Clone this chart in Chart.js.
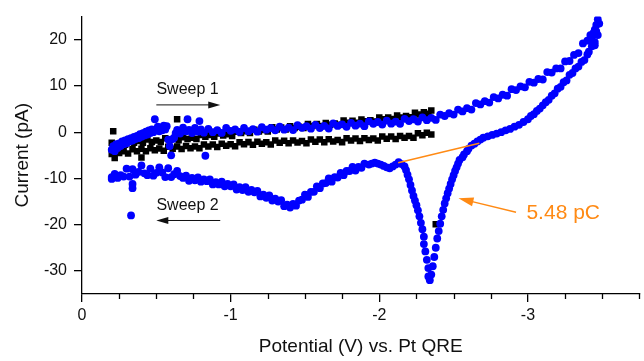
<!DOCTYPE html>
<html>
<head>
<meta charset="utf-8">
<script src="https://cdn.jsdelivr.net/npm/chart.js@4.4.1/dist/chart.umd.min.js"></script>
<style>
  body { margin: 0; background: #fff; }
  #wrap { width: 644px; height: 361px; }
</style>
</head>
<body>
<div id="wrap"><canvas id="cv" width="644" height="361"></canvas></div>
<script>
// potential in V, current in pA

// blue trace, first sweep (toward negative potential)
const blueFwdV = [-0.20,-0.21,-0.22,-0.23,-0.24,-0.25,-0.26,-0.27,-0.28,-0.29,-0.30,-0.31,-0.32,-0.33,-0.34,-0.35,-0.36,-0.37,-0.38,-0.39,-0.40,-0.41,-0.42,-0.43,-0.44,-0.45,-0.46,-0.47,-0.48,-0.49,
  -0.50,-0.51,-0.52,-0.53,-0.54,-0.55,-0.56,-0.57,-0.58,-0.59,-0.60,-0.61,-0.62,-0.63,-0.64,-0.66,-0.68,-0.70,-0.71,-0.72,-0.74,-0.76,-0.78,-0.79,-0.80,-0.82,-0.83,
  -0.85,-0.88,-0.91,-0.94,-0.97,-1.00,-1.03,-1.06,-1.09,-1.12,-1.15,-1.18,-1.21,-1.24,-1.27,-1.30,-1.33,-1.36,-1.39,-1.42,-1.45,-1.48,-1.51,-1.54,-1.57,-1.60,
  -1.63,-1.66,-1.69,-1.72,-1.75,-1.78,-1.81,-1.84,-1.87,-1.90,-1.93,-1.96,-1.99,-2.02,-2.05,-2.08,-2.11,-2.14,-2.17,-2.20,-2.23,-2.26,-2.29,-2.32,-2.35,
  -2.38,-2.41,-2.44,-2.47,-2.50,-2.53,-2.56,-2.59,-2.62,-2.65,-2.68,-2.71,-2.74,-2.77,-2.80,-2.83,-2.86,-2.89,-2.92,-2.95,-2.98,-3.01,-3.04,-3.07,-3.10,
  -3.13,-3.16,-3.19,-3.22,-3.25,-3.28,-3.31,-3.34,-3.37,-3.40,-3.42,-3.44,-3.46,-3.48,-3.47,-3.45,-3.43,-3.44,-3.46,-3.45];
const blueFwdI = [-3.8,-3.0,-4.1,-2.6,-3.4,-2.4,-3.0,-2.0,-2.6,-1.8,-2.4,-1.5,-2.0,-1.3,-1.8,-1.0,-1.5,-0.8,-1.3,-0.4,-1.0,-0.2,-0.7,0.1,-0.5,0.4,-0.2,0.6,0.0,2.8,
  0.5,1.2,0.2,1.0,0.4,1.4,0.6,1.3,-1.6,-3.0,-5.0,-1.5,-1.2,-0.2,0.5,-0.3,1.0,0.2,2.8,0.5,-0.2,0.9,0.1,2.4,0.6,-0.1,-5.1,
  0.7,0.0,0.45,-0.15,0.9,0.3,0.6,0.05,0.9,0.2,0.65,0.1,1.1,0.55,0.9,0.4,1.2,0.55,1.0,0.45,1.5,0.95,1.3,0.75,1.6,0.9,
  1.35,0.8,1.9,1.35,1.7,1.15,2.0,1.4,1.85,1.3,2.35,1.8,2.2,1.65,2.5,1.85,2.3,1.8,2.9,2.4,2.8,2.3,3.2,2.6,3.1,
  2.65,3.8,3.5,4.1,3.8,4.9,4.5,5.2,4.9,6.3,6.0,6.7,6.4,7.6,7.3,8.1,7.9,9.3,9.1,9.9,9.7,10.9,10.7,11.5,11.4,
  13.0,12.9,13.8,13.8,15.3,15.4,16.7,17.1,19.2,19.8,21.0,21.4,23.2,23.5,24.4,22.2,20.2,19.0,21.8,18.8];

// blue trace, second sweep (back toward 0 V)
const blueRevV = [-3.47,-3.45,-3.43,-3.41,-3.40,-3.38,-3.36,-3.34,-3.32,-3.30,-3.28,-3.26,-3.24,-3.22,-3.20,-3.18,-3.16,-3.14,-3.12,-3.10,-3.08,-3.06,-3.04,-3.02,-3.00,
  -2.97,-2.94,-2.91,-2.88,-2.85,-2.82,-2.79,-2.76,-2.73,-2.70,-2.68,-2.66,-2.64,-2.62,-2.60,-2.59,-2.57,-2.56,-2.54,-2.53,-2.52,-2.51,-2.50,-2.49,-2.48,-2.47,-2.46,-2.45,-2.44,-2.43,-2.42,-2.41,-2.40,-2.39,-2.38,-2.37,-2.36,-2.35,-2.34,
  -2.33,-2.33,-2.32,-2.31,-2.30,-2.30,-2.29,-2.28,-2.27,-2.26,-2.25,-2.24,-2.23,-2.22,-2.21,-2.20,-2.19,-2.18,-2.17,-2.15,-2.13,-2.11,-2.09,-2.07,-2.05,-2.03,-2.01,-1.99,-1.97,-1.95,-1.93,
  -1.90,-1.88,-1.86,-1.84,-1.82,-1.80,-1.78,-1.76,-1.74,-1.72,-1.70,-1.68,-1.66,-1.64,-1.62,-1.60,-1.58,-1.56,-1.54,-1.52,-1.50,-1.48,-1.46,-1.44,-1.42,-1.40,
  -1.38,-1.36,-1.34,-1.32,-1.30,-1.28,-1.26,-1.24,-1.22,-1.20,-1.18,-1.16,-1.14,-1.12,-1.10,-1.08,-1.06,-1.04,-1.02,-1.00,-0.98,-0.96,-0.94,-0.92,-0.90,
  -0.88,-0.86,-0.84,-0.82,-0.80,-0.78,-0.76,-0.74,-0.72,-0.70,-0.68,-0.66,-0.64,-0.62,-0.60,-0.58,-0.56,-0.54,-0.52,-0.50,-0.48,-0.46,-0.44,-0.42,-0.40,
  -0.38,-0.36,-0.34,-0.34,-0.33,-0.34,-0.32,-0.30,-0.28,-0.26,-0.24,-0.22,-0.20,-0.20];
const blueRevI = [21.0,19.5,18.6,17.4,16.8,15.6,15.2,14.2,13.8,12.8,12.4,11.2,10.8,9.8,9.4,8.4,7.9,7.0,6.5,5.8,5.1,4.6,3.9,3.5,2.8,
  2.2,1.6,1.2,0.7,0.4,0.0,-0.3,-0.6,-0.9,-1.2,-1.6,-2.0,-2.5,-2.9,-3.6,-4.1,-4.8,-5.4,-6.0,-6.8,-7.6,-8.4,-9.3,-10.2,-11.2,-12.2,-13.2,-14.3,-15.4,-16.8,-18.2,-19.8,-21.4,-23.0,-25.0,-27.0,-29.0,-30.8,-32.0,
  -31.2,-29.4,-27.6,-25.8,-24.2,-22.6,-21.0,-19.6,-18.2,-16.9,-15.8,-14.8,-13.8,-12.6,-11.4,-10.2,-9.2,-8.2,-7.4,-6.9,-6.5,-7.0,-7.4,-7.8,-7.6,-7.3,-7.0,-6.8,-6.6,-6.8,-7.0,
  -6.8,-7.7,-7.5,-8.3,-7.5,-8.4,-8.4,-9.3,-8.8,-9.8,-9.7,-10.7,-10.0,-11.0,-11.1,-12.1,-11.7,-12.9,-12.9,-14.0,-13.5,-14.6,-14.8,-15.9,-15.5,-16.3,
  -15.7,-16.0,-14.7,-15.0,-14.4,-14.8,-13.7,-14.2,-13.5,-13.9,-12.7,-13.0,-12.5,-12.9,-11.9,-12.5,-11.9,-12.4,-11.3,-11.7,-11.2,-11.7,-10.7,-11.3,-10.8,
  -11.3,-10.2,-10.6,-10.2,-10.7,-9.8,-10.4,-9.9,-10.5,-9.4,-9.9,-9.5,-8.4,-9.1,-9.7,-7.8,-9.7,-8.7,-7.6,-8.8,-9.4,-7.9,-9.3,-8.9,-7.2,
  -8.6,-9.2,-8.0,-12.1,-18.0,-11.2,-9.6,-7.9,-9.6,-9.3,-9.9,-9.0,-9.7,-10.1];

// black trace, first sweep
const blackFwdV = [-0.20,-0.23,-0.26,-0.29,-0.32,-0.35,-0.38,-0.41,-0.44,-0.47,-0.50,-0.53,-0.56,-0.59,-0.62,-0.65,-0.68,-0.71,-0.74,-0.77,-0.80,-0.83,-0.86,-0.89,-0.92,
  -0.95,-0.98,-1.01,-1.04,-1.07,-1.10,-1.13,-1.16,-1.19,-1.22,-1.25,-1.28,-1.31,-1.34,-1.37,-1.40,-1.43,-1.46,-1.49,-1.52,-1.55,-1.58,-1.61,-1.64,-1.67,
  -1.70,-1.73,-1.76,-1.79,-1.82,-1.85,-1.88,-1.91,-1.94,-1.97,-2.00,-2.03,-2.06,-2.09,-2.12,-2.15,-2.18,-2.21,-2.24,-2.27,-2.30,-2.33,-2.35];
const blackFwdI = [-2.3,-2.7,-2.4,-2.7,-1.8,-2.3,-1.9,-2.3,-1.6,-2.1,-1.8,-2.1,-1.3,-1.7,-1.3,-1.75,-1.1,-1.5,-1.2,-1.5,-0.6,-1.0,-0.6,-1.0,-0.3,
  -0.7,-0.45,-0.8,0.1,-0.2,0.2,-0.2,0.55,0.15,0.45,0.15,1.05,0.6,1.0,0.6,1.3,0.9,1.2,0.9,1.75,1.35,1.75,1.35,2.0,1.6,
  1.9,1.6,2.5,2.05,2.45,2.05,2.75,2.35,2.6,2.3,3.2,2.8,3.2,2.85,3.6,3.2,3.5,3.25,4.2,3.85,4.3,4.0,4.7];

// black trace, second sweep
const blackRevV = [-2.35,-2.32,-2.29,-2.26,-2.23,-2.20,-2.17,-2.14,-2.11,-2.08,-2.05,-2.02,-1.99,-1.96,-1.93,-1.90,-1.87,-1.84,-1.81,-1.78,-1.75,-1.72,-1.69,-1.66,-1.63,
  -1.60,-1.57,-1.54,-1.51,-1.48,-1.45,-1.42,-1.39,-1.36,-1.33,-1.30,-1.27,-1.24,-1.21,-1.18,-1.15,-1.12,-1.09,-1.06,-1.03,-1.00,-0.97,-0.94,-0.91,-0.88,
  -0.85,-0.82,-0.79,-0.76,-0.73,-0.70,-0.67,-0.64,-0.61,-0.58,-0.55,-0.52,-0.49,-0.46,-0.43,-0.40,-0.37,-0.34,-0.31,-0.28,-0.25,-0.22,-0.20];
const blackRevI = [-0.5,-0.1,-0.65,-0.25,-1.2,-0.8,-1.2,-0.8,-1.5,-0.95,-1.4,-0.95,-1.8,-1.35,-1.7,-1.3,-1.9,-1.35,-1.8,-1.3,-2.15,-1.7,-2.0,-1.55,-2.2,
  -1.6,-2.05,-1.6,-2.4,-1.9,-2.25,-1.8,-2.4,-1.85,-2.3,-1.8,-2.65,-2.2,-2.5,-2.05,-2.7,-2.15,-2.6,-2.2,-3.05,-2.6,-2.95,-2.5,-3.2,-2.65,
  -3.1,-2.65,-3.5,-3.1,-3.45,-3.0,-3.65,-3.1,-3.6,-3.15,-4.0,-3.55,-3.9,-3.5,-4.15,-3.6,-4.1,-3.7,-4.6,-4.15,-4.5,-4.05,-4.7];

// stray black points
const blackStrayV = [-0.21,-0.22,-0.40,-0.64,-2.38];
const blackStrayI = [0.2,-5.6,-5.5,2.8,-19.9];

const xTicks = [0, -1, -2, -3];
const xMinorTicks = [-0.25,-0.5,-0.75,-1.25,-1.5,-1.75,-2.25,-2.5,-2.75,-3.25,-3.5,-3.75];
const yTicks = [-30, -20, -10, 0, 10, 20];

const FONT = '"Liberation Sans", Arial, sans-serif';
const ORANGE = '#ff8a14';

function toPoints(vs, is) {
  return vs.map((v, k) => ({x: v, y: is[k]}));
}

function arrow(ctx, x0, y0, x1, y1, len, half, color, lw) {
  const a = Math.atan2(y1 - y0, x1 - x0);
  ctx.strokeStyle = color;
  ctx.fillStyle = color;
  ctx.lineWidth = lw;
  ctx.beginPath();
  ctx.moveTo(x0, y0);
  ctx.lineTo(x1 - Math.cos(a) * len * 0.8, y1 - Math.sin(a) * len * 0.8);
  ctx.stroke();
  ctx.beginPath();
  ctx.moveTo(x1, y1);
  ctx.lineTo(x1 - Math.cos(a) * len - Math.sin(a) * half, y1 - Math.sin(a) * len + Math.cos(a) * half);
  ctx.lineTo(x1 - Math.cos(a) * len + Math.sin(a) * half, y1 - Math.sin(a) * len - Math.cos(a) * half);
  ctx.closePath();
  ctx.fill();
}

// minor ticks on the potential axis
const minorTicks = {
  id: 'minorTicks',
  afterDraw(chart) {
    const {ctx} = chart;
    const sx = chart.scales.x;
    ctx.save();
    ctx.strokeStyle = '#000';
    ctx.lineWidth = 1.3;
    xMinorTicks.forEach(v => {
      const p = Math.round(sx.getPixelForValue(v)) + 0.5;
      ctx.beginPath();
      ctx.moveTo(p, sx.top);
      ctx.lineTo(p, sx.top + 5);
      ctx.stroke();
    });
    ctx.restore();
  }
};

// sweep arrows, charge integration lines and label
const notes = {
  id: 'notes',
  afterDatasetsDraw(chart) {
    const {ctx} = chart;
    const px = v => chart.scales.x.getPixelForValue(v);
    const py = i => chart.scales.y.getPixelForValue(i);
    ctx.save();

    ctx.font = '16px ' + FONT;
    ctx.fillStyle = '#111';
    ctx.textAlign = 'center';
    ctx.textBaseline = 'middle';
    ctx.fillText('Sweep 1', px(-0.71), py(9.2));
    ctx.fillText('Sweep 2', px(-0.71), py(-15.8));
    arrow(ctx, px(-0.5), py(5.9), px(-0.93), py(5.9), 12, 3.5, '#111', 1);
    arrow(ctx, px(-0.93), py(-19.1), px(-0.5), py(-19.1), 12, 3.5, '#111', 1);

    ctx.strokeStyle = ORANGE;
    ctx.lineWidth = 1.5;
    ctx.beginPath();
    ctx.moveTo(px(-2.127), py(-6.6));
    ctx.lineTo(px(-2.673), py(-2.4));
    ctx.stroke();
    arrow(ctx, px(-2.92), py(-17.3), px(-2.533), py(-14.3), 15, 4.5, ORANGE, 1.5);

    ctx.font = '21px ' + FONT;
    ctx.fillStyle = ORANGE;
    ctx.textAlign = 'left';
    ctx.fillText('5.48 pC', px(-2.99), py(-17.6));
    ctx.restore();
  }
};

const ctx = document.getElementById('cv');

new Chart(ctx, {
  type: 'scatter',
  data: {
    datasets: [
      {
        label: 'blue',
        data: toPoints(blueFwdV, blueFwdI).concat(toPoints(blueRevV, blueRevI)),
        pointStyle: 'circle',
        pointRadius: 3.9,
        pointBorderWidth: 0,
        pointBackgroundColor: '#0000ff',
        pointBorderColor: '#0000ff'
      },
      {
        label: 'black',
        data: toPoints(blackFwdV, blackFwdI).concat(toPoints(blackRevV, blackRevI), toPoints(blackStrayV, blackStrayI)),
        pointStyle: 'rect',
        pointRadius: 4.6,
        pointBorderWidth: 0,
        pointBackgroundColor: '#000',
        pointBorderColor: '#000'
      }
    ]
  },
  options: {
    responsive: false,
    animation: false,
    layout: { padding: { top: 13, right: 3, left: 0, bottom: 0 } },
    plugins: {
      legend: { display: false },
      tooltip: { enabled: false }
    },
    scales: {
      x: {
        type: 'linear',
        min: -3.75,
        max: 0,
        reverse: true,
        afterFit(scale) { scale.height = 67; },
        afterBuildTicks(scale) { scale.ticks = xTicks.map(v => ({value: v})); },
        border: { display: true, color: '#000', width: 1.3 },
        grid: { drawOnChartArea: false, drawTicks: true, tickLength: 8, color: '#000', lineWidth: 1.3 },
        ticks: {
          color: '#111',
          padding: 4,
          maxRotation: 0,
          font: { family: FONT, size: 16 },
          callback: v => String(v)
        },
        title: {
          display: true,
          text: 'Potential (V) vs. Pt QRE',
          color: '#111',
          font: { family: FONT, size: 19 },
          padding: { top: 0, bottom: 3 }
        }
      },
      y: {
        type: 'linear',
        min: -35,
        max: 25,
        afterFit(scale) { scale.width = 82; },
        afterBuildTicks(scale) { scale.ticks = yTicks.map(v => ({value: v})); },
        border: { display: true, color: '#000', width: 1.3 },
        grid: { drawOnChartArea: false, drawTicks: true, tickLength: 8, color: '#000', lineWidth: 1.3 },
        ticks: {
          color: '#111',
          padding: 7,
          font: { family: FONT, size: 16 },
          callback: v => String(v)
        },
        title: {
          display: true,
          text: 'Current (pA)',
          color: '#111',
          font: { family: FONT, size: 19 },
          padding: { top: 11, bottom: 0 }
        }
      }
    }
  },
  plugins: [minorTicks, notes]
});
</script>
</body>
</html>
